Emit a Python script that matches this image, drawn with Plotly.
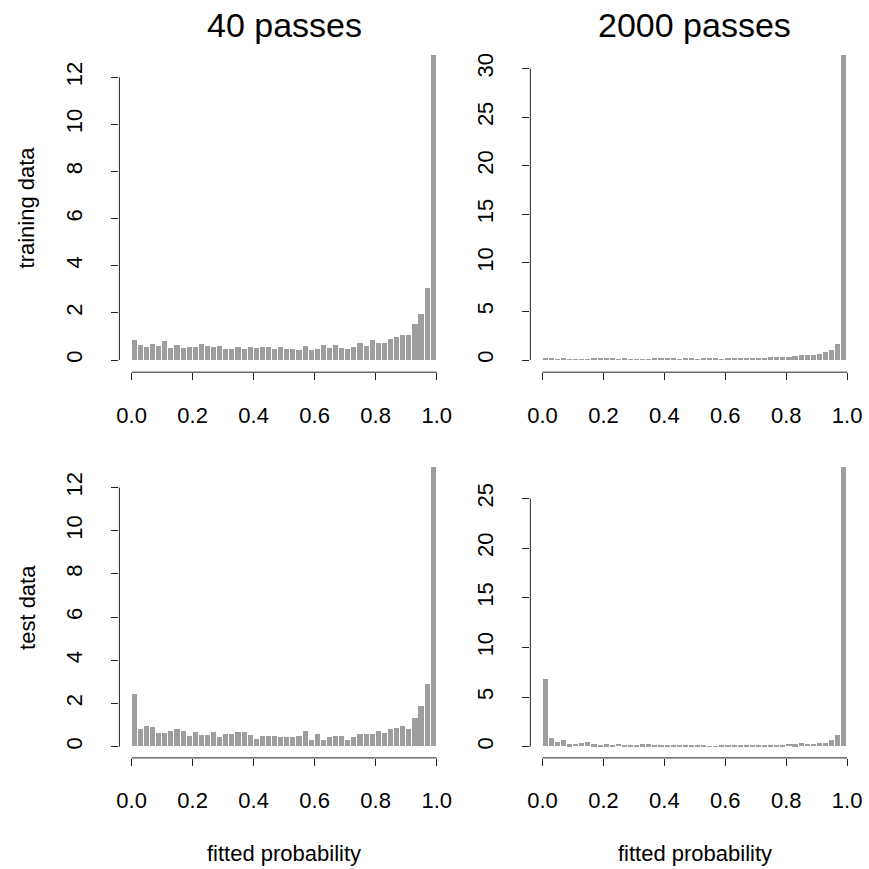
import plotly.graph_objects as go

# ---- data (density histograms, 50 bins of width 0.02 on [0,1]) ----
bin_width = 0.02
train_40 = [0.83, 0.62, 0.54, 0.66, 0.59, 0.80, 0.51, 0.62, 0.49, 0.55,
            0.54, 0.66, 0.59, 0.54, 0.59, 0.45, 0.45, 0.55, 0.45, 0.54,
            0.51, 0.54, 0.55, 0.45, 0.54, 0.45, 0.45, 0.42, 0.59, 0.42,
            0.48, 0.64, 0.51, 0.62, 0.51, 0.47, 0.55, 0.72, 0.59, 0.83,
            0.73, 0.72, 0.88, 0.97, 1.06, 1.06, 1.53, 1.95, 3.06, 12.93]
train_2000 = [0.24, 0.14, 0.07, 0.14, 0.07, 0.07, 0.03, 0.07, 0.20, 0.10,
              0.10, 0.10, 0.03, 0.17, 0.07, 0.03, 0.07, 0.07, 0.10, 0.17,
              0.20, 0.10, 0.07, 0.24, 0.10, 0.07, 0.14, 0.10, 0.10, 0.07,
              0.10, 0.10, 0.10, 0.14, 0.14, 0.14, 0.20, 0.31, 0.31, 0.34,
              0.31, 0.41, 0.51, 0.51, 0.51, 0.62, 0.82, 1.06, 1.61, 31.37]
test_40 = [2.42, 0.80, 0.96, 0.90, 0.60, 0.62, 0.73, 0.80, 0.73, 0.48,
           0.68, 0.54, 0.54, 0.66, 0.45, 0.56, 0.56, 0.65, 0.68, 0.54,
           0.34, 0.49, 0.49, 0.49, 0.43, 0.43, 0.43, 0.49, 0.71, 0.32,
           0.57, 0.32, 0.45, 0.49, 0.49, 0.31, 0.45, 0.57, 0.57, 0.56,
           0.73, 0.62, 0.80, 0.86, 0.94, 0.82, 1.31, 1.85, 2.90, 12.93]
test_2000 = [6.81, 0.84, 0.44, 0.60, 0.20, 0.23, 0.34, 0.40, 0.20, 0.17,
             0.20, 0.17, 0.27, 0.10, 0.10, 0.13, 0.20, 0.20, 0.17, 0.10,
             0.10, 0.10, 0.13, 0.10, 0.08, 0.07, 0.13, 0.03, 0.03, 0.07,
             0.13, 0.13, 0.13, 0.13, 0.10, 0.13, 0.10, 0.07, 0.10, 0.17,
             0.23, 0.20, 0.30, 0.23, 0.23, 0.30, 0.37, 0.60, 1.14, 28.12]

x_ticks = [0.0, 0.2, 0.4, 0.6, 0.8, 1.0]
x_ticklabels = ["0.0", "0.2", "0.4", "0.6", "0.8", "1.0"]
y_ticks_40 = [0, 2, 4, 6, 8, 10, 12]
y_ticks_train_2000 = [0, 5, 10, 15, 20, 25, 30]
y_ticks_test_2000 = [0, 5, 10, 15, 20, 25]

col_titles = ["40 passes", "2000 passes"]
row_titles = ["training data", "test data"]
x_title = "fitted probability"

# ---- layout geometry (pixels of the 869 x 869 page) ----
W = H = 869
FONT = "Liberation Sans, Arial, Helvetica, sans-serif"
BAR = "#9e9e9e"
AX = "#222222"

def px_x(p):
    return p / W

def px_y(p):
    return 1 - p / H

x_dom = [[px_x(117.2), px_x(449.0)], [px_x(531.0), px_x(862.3)]]
y_dom = [[px_y(372.2), px_y(43.1)], [px_y(757.9), px_y(456.3)]]

panels = [
    (0, 0, train_40, y_ticks_40),
    (0, 1, train_2000, y_ticks_train_2000),
    (1, 0, test_40, y_ticks_40),
    (1, 1, test_2000, y_ticks_test_2000),
]

centers = [bin_width * (i + 0.5) for i in range(50)]

fig = go.Figure()
layout = dict(
    width=W, height=H,
    margin=dict(l=0, r=0, t=0, b=0),
    paper_bgcolor="white", plot_bgcolor="white",
    showlegend=False,
    bargap=0,
    font=dict(family=FONT, size=22, color="black"),
)
shapes = []
annotations = []

for k, (r, c, vals, yt) in enumerate(panels):
    n = k + 1
    xa = "x" if n == 1 else f"x{n}"
    ya = "y" if n == 1 else f"y{n}"
    fig.add_trace(go.Bar(
        x=centers, y=vals, width=bin_width * 0.84,
        marker=dict(color=BAR, line=dict(width=0)),
        xaxis=xa, yaxis=ya, hoverinfo="skip",
    ))
    m = max(vals)
    layout[f"xaxis{n if n > 1 else ''}"] = dict(
        domain=x_dom[c], anchor=ya, range=[-0.04, 1.04],
        showgrid=False, zeroline=False, showline=False,
        tickmode="array", tickvals=x_ticks, ticktext=x_ticklabels,
        ticks="outside", ticklen=7, tickwidth=1, tickcolor=AX,
        ticklabelstandoff=16,
        tickfont=dict(family=FONT, size=22, color="black"),
    )
    layout[f"yaxis{n if n > 1 else ''}"] = dict(
        domain=y_dom[r], anchor=xa, range=[-0.04 * m, 1.04 * m],
        showgrid=False, zeroline=False, showline=False,
        tickmode="array", tickvals=yt, ticktext=[str(v) for v in yt],
        ticks="outside", ticklen=7, tickwidth=1, tickcolor=AX,
        tickangle=-90, ticklabelstandoff=21,
        tickfont=dict(family=FONT, size=22, color="black"),
    )
    # R-style axis lines spanning first to last tick
    shapes.append(dict(type="line", xref=f"{xa} domain", yref=ya,
                       x0=0, x1=0, y0=yt[0], y1=yt[-1],
                       line=dict(color=AX, width=1)))
    shapes.append(dict(type="line", xref=xa, yref=f"{ya} domain",
                       x0=x_ticks[0], x1=x_ticks[-1], y0=0, y1=0,
                       line=dict(color=AX, width=1)))

# column titles
for c, t in enumerate(col_titles):
    annotations.append(dict(text=t, x=sum(x_dom[c]) / 2, y=px_y(25),
                            xref="paper", yref="paper", showarrow=False,
                            xanchor="center", yanchor="middle",
                            font=dict(family=FONT, size=34, color="black")))
# row titles
for r, t in enumerate(row_titles):
    annotations.append(dict(text=t, x=px_x(24), y=sum(y_dom[r]) / 2,
                            xref="paper", yref="paper", showarrow=False,
                            textangle=-90, xanchor="center", yanchor="middle",
                            font=dict(family=FONT, size=22, color="black")))
# x titles
for c in range(2):
    annotations.append(dict(text=x_title, x=sum(x_dom[c]) / 2, y=px_y(853),
                            xref="paper", yref="paper", showarrow=False,
                            xanchor="center", yanchor="middle",
                            font=dict(family=FONT, size=22, color="black")))

layout["shapes"] = shapes
layout["annotations"] = annotations
fig.update_layout(**layout)
fig.write_html("out.html")
